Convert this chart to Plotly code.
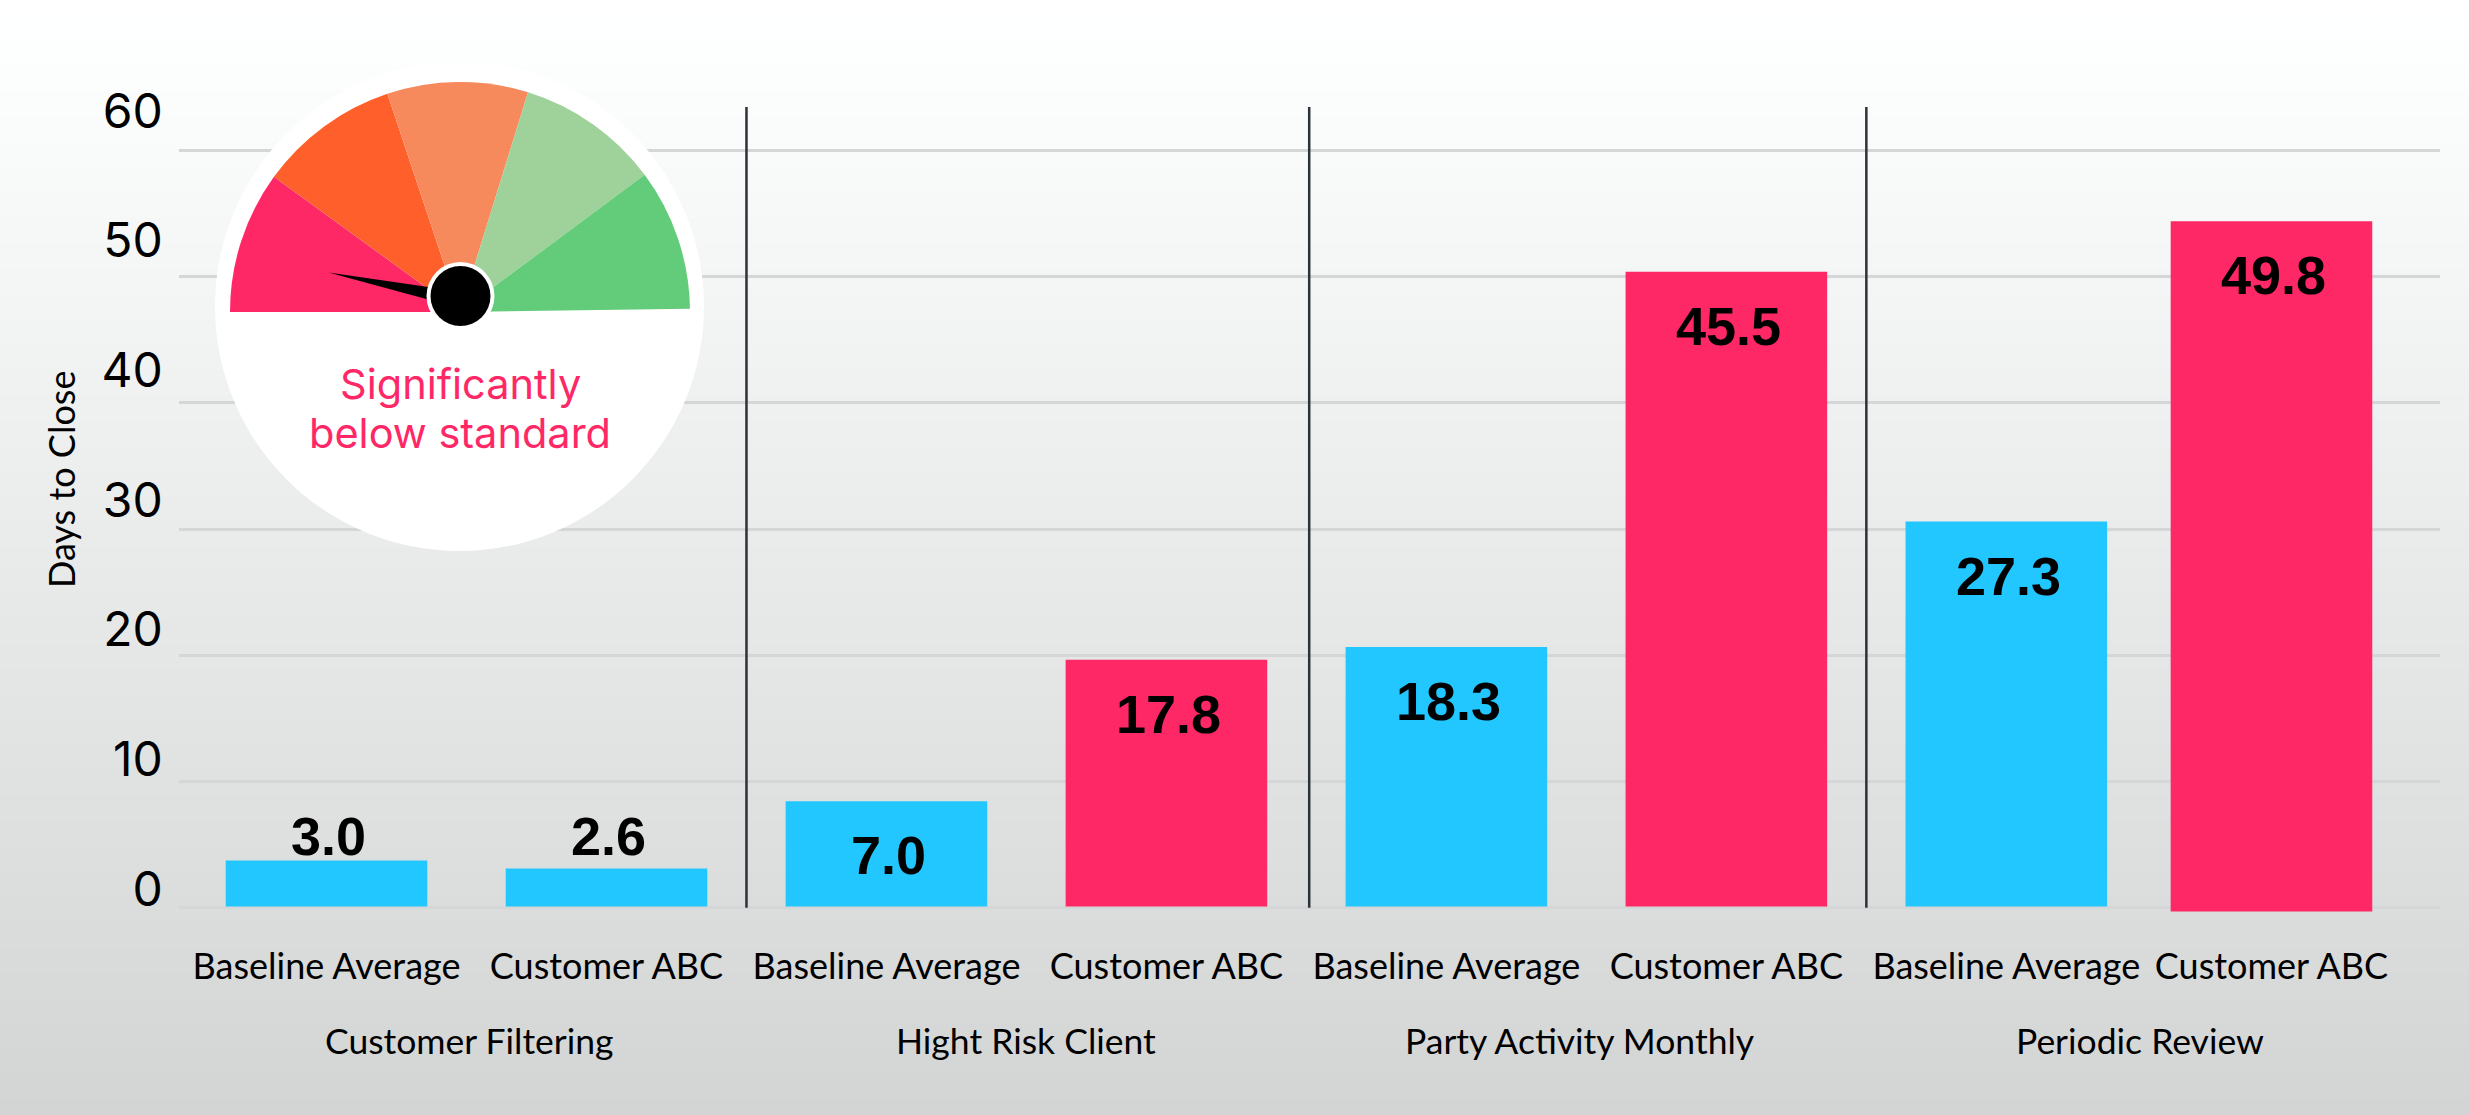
import plotly.graph_objects as go

W, H = 2469, 1115
def px(x): return x / W
def py(y): return 1 - y / H

# ---- data ----
bar_labels = ["Baseline Average", "Customer ABC"] * 4
group_labels = ["Customer Filtering", "Hight Risk Client", "Party Activity Monthly", "Periodic Review"]
group_positions = [0.51, 2.5, 4.477, 6.478]
bar_positions = [0, 1, 2, 3, 4, 5, 6, 6.947]
bar_tops = [3.74, 3.11, 8.43, 19.65, 20.65, 50.4, 30.6, 54.4]
bar_bases = [0.1, 0.1, 0.1, 0.1, 0.1, 0.1, 0.1, -0.3]
value_labels = ["3.0", "2.6", "7.0", "17.8", "18.3", "45.5", "27.3", "49.8"]
bar_colors = ["#22c7ff", "#22c7ff", "#22c7ff", "#ff2866", "#22c7ff", "#ff2866", "#22c7ff", "#ff2866"]
label_shifts = [24, 32, -54, -54, -54, -54, -54, -54]
separators = [1.5, 3.51, 5.5]
y_ticks = [0, 10, 20, 30, 40, 50, 60]
gauge_values = [36, 35.6, 35.6, 36.2, 35.8, 180.8]
gauge_colors = ["#ff2866", "#ff602b", "#f68a5c", "#9fd19b", "#63cc7a", "rgba(0,0,0,0)"]
gauge_lines = ["Significantly", "below standard"]

LABEL_FONT = "Lato"
TICK_FONT = "Inter"
VALUE_FONT = "Liberation Sans"

fig = go.Figure()

# white disc behind the gauge, then gauge wedges
fig.add_trace(go.Pie(values=[1], marker=dict(colors=["#ffffff"], line=dict(width=0)),
                     textinfo="none", hoverinfo="skip", showlegend=False, sort=False,
                     domain=dict(x=[px(215), px(704)], y=[py(551), py(62)])))
fig.add_trace(go.Pie(values=gauge_values, marker=dict(colors=gauge_colors, line=dict(width=0)),
                     textinfo="none", hoverinfo="skip", showlegend=False, sort=False,
                     direction="clockwise", rotation=270,
                     domain=dict(x=[px(230), px(690)], y=[py(542), py(82)])))

fig.add_trace(go.Bar(x=bar_positions, y=[t - b for t, b in zip(bar_tops, bar_bases)], base=bar_bases,
                     width=0.72, marker=dict(color=bar_colors, line=dict(width=0)),
                     showlegend=False, hoverinfo="skip"))
# carries the tick-label axis
fig.add_trace(go.Scatter(x=[bar_positions[0]], y=[y_ticks[0]], yaxis="y2", mode="markers",
                         marker=dict(opacity=0), showlegend=False, hoverinfo="skip"))

annotations = []
for x, top, txt, shift in zip(bar_positions, bar_tops, value_labels, label_shifts):
    annotations.append(dict(x=x, y=top, xref="x", yref="y", text=f"<b>{txt}</b>", showarrow=False,
                            yshift=shift, xshift=2, xanchor="center", yanchor="middle",
                            font=dict(family=VALUE_FONT, size=54, color="#000000")))
for xp, g in zip(group_positions, group_labels):
    annotations.append(dict(x=xp, y=py(1040), xref="x", yref="paper", text=g, showarrow=False,
                            xanchor="center", yanchor="middle",
                            font=dict(family=LABEL_FONT, size=35.5, color="#000000")))
annotations.append(dict(x=px(61), y=py(480), xref="paper", yref="paper", text="Days to Close",
                        textangle=-90, showarrow=False, xanchor="center", yanchor="middle",
                        font=dict(family=LABEL_FONT, size=36, color="#000000")))
for line, yp in zip(gauge_lines, [384, 433]):
    annotations.append(dict(x=px(460), y=py(yp), xref="paper", yref="paper", text=line,
                            showarrow=False, xanchor="center", yanchor="middle",
                            font=dict(family=TICK_FONT, size=41.5, color="#ff2866")))

shapes = []
# page gradient, painted top to bottom
strips = 220
for i in range(strips):
    f = i / (strips - 1)
    c = round(255 - 44 * f)
    shapes.append(dict(type="rect", xref="paper", yref="paper", layer="below",
                       x0=0, x1=1, y0=0, y1=1 - i / strips,
                       fillcolor=f"rgb({c},{min(255, c + 1)},{min(255, c + 1)})", line=dict(width=0)))
for s in separators:
    shapes.append(dict(type="line", xref="x", yref="y", x0=s, x1=s, y0=0, y1=63.45,
                       line=dict(color="#2b323a", width=2.5)))
# needle and hub
shapes.append(dict(type="path", xref="paper", yref="paper", layer="above",
                   path=f"M {px(328.5)} {py(272.4)} L {px(430)} {py(287.2)} L {px(430)} {py(300)} Z",
                   fillcolor="#000000", line=dict(width=0)))
shapes.append(dict(type="circle", xref="paper", yref="paper", layer="above",
                   x0=px(460.5 - 34), x1=px(460.5 + 34), y0=py(296 + 34), y1=py(296 - 34),
                   fillcolor="#ffffff", line=dict(width=0)))
shapes.append(dict(type="circle", xref="paper", yref="paper", layer="above",
                   x0=px(460.5 - 30), x1=px(460.5 + 30), y0=py(296 + 30), y1=py(296 - 30),
                   fillcolor="#000000", line=dict(width=0)))

fig.update_layout(
    width=W, height=H, autosize=False,
    margin=dict(l=0, r=0, t=0, b=0, pad=0),
    paper_bgcolor="#ffffff", plot_bgcolor="rgba(0,0,0,0)",
    showlegend=False, annotations=annotations, shapes=shapes,
    xaxis=dict(domain=[px(178.7), px(2440)], range=[-0.528, 7.549], tickmode="array",
               tickvals=bar_positions, ticktext=bar_labels, showgrid=False, zeroline=False,
               showline=False, ticks="", ticklabelstandoff=28, automargin=False,
               tickfont=dict(family=LABEL_FONT, size=36, color="#000000")),
    yaxis=dict(domain=[py(914), py(107)], range=[-0.5, 63.45], tickmode="array", tickvals=y_ticks,
               showticklabels=False, showgrid=True, gridcolor="#d5d6d7", gridwidth=3,
               zeroline=False, showline=False, ticks="", automargin=False),
    yaxis2=dict(overlaying="y", side="left", anchor="x", range=[-1.93, 60.3], tickmode="array",
                tickvals=y_ticks, showgrid=False, zeroline=False, showline=False, ticks="",
                ticklabelstandoff=15, automargin=False,
                tickfont=dict(family=TICK_FONT, size=48, color="#000000")),
)

fig.write_html("out.html", config=dict(displayModeBar=False),
               post_script="document.body.style.margin='0';document.body.style.overflow='hidden';")
